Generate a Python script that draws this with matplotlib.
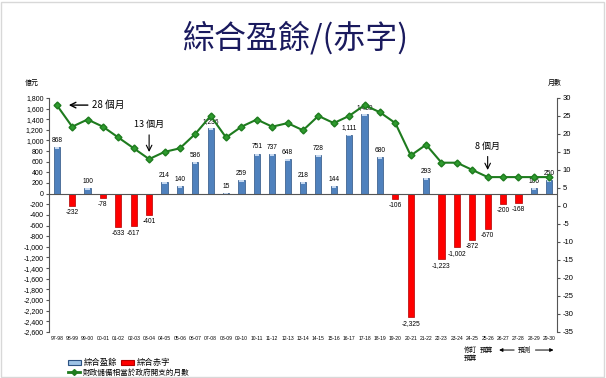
import numpy as np
import matplotlib.pyplot as plt
from matplotlib.patches import Rectangle, FancyArrowPatch
from matplotlib.lines import Line2D

plt.rcParams['font.family'] = ['Noto Sans CJK TC', 'DejaVu Sans']
num_font = 'Liberation Sans'

# Data
years = ["97-98", "98-99", "99-00", "00-01", "01-02", "02-03", "03-04", "04-05",
         "05-06", "06-07", "07-08", "08-09", "09-10", "10-11", "11-12", "12-13",
         "13-14", "14-15", "15-16", "16-17", "17-18", "18-19", "19-20", "20-21",
         "21-22", "22-23", "23-24", "24-25", "25-26", "26-27", "27-28", "28-29",
         "29-30"]
balance = [868, -232, 100, -78, -633, -617, -401, 214, 140, 586, 1236, 15, 259,
           751, 737, 648, 218, 728, 144, 1111, 1489, 680, -106, -2325, 293,
           -1223, -1002, -872, -670, -200, -168, 106, 250]
months = [28, 22, 24, 22, 19, 16, 13, 15, 16, 20, 25, 19, 22, 24, 22, 23, 21,
          25, 23, 25, 28, 26, 23, 14, 17, 12, 12, 10, 8, 8, 8, 8, 8]

left_ticks = list(range(-2600, 1801, 200))
right_ticks = list(range(-35, 31, 5))

blue = '#4F81BD'
red = '#FF0000'
green = '#1E7B1E'

fig = plt.figure(figsize=(6.06, 3.78), dpi=100)
fig.patches.append(Rectangle((0.002, 0.002), 0.994, 0.994, transform=fig.transFigure,
                             fill=False, edgecolor='#d8d8d8', linewidth=1))

ax = fig.add_axes([0.081, 0.122, 0.838, 0.619])
x = np.arange(len(years))
bal = np.array(balance)
pos = bal >= 0
w = 0.4

ax.bar(x[pos], bal[pos], width=w, color=blue, edgecolor='#2C5282', linewidth=0.5, zorder=2)
ax.bar(x[~pos], bal[~pos], width=w, color=red, edgecolor='#B00000', linewidth=0.5, zorder=2)
# lighter caps on blue bars
cap = np.minimum(bal[pos], 35)
ax.bar(x[pos], cap, bottom=bal[pos] - cap, width=w * 0.7, color='#C6D9F1', linewidth=0, zorder=3)

for xi, v in zip(x, balance):
    if v >= 0:
        ax.text(xi, v + 60, f"{v:,}", ha='center', va='bottom', fontsize=4.8, family=num_font)
    else:
        ax.text(xi, v - 60, f"{v:,}", ha='center', va='top', fontsize=4.8, family=num_font)

ax.axhline(0, color='#555555', linewidth=0.8, zorder=4)
ax.set_xlim(-0.5, len(years) - 0.5)
ax.set_ylim(-2600, 1800)
ax.set_yticks(left_ticks)
ax.set_yticklabels([f"{t:,}" for t in left_ticks], family=num_font)
ax.set_xticks(x)
ax.set_xticklabels(years, family=num_font)
ax.tick_params(axis='x', length=0, labelsize=3.6, pad=3)
ax.tick_params(axis='y', length=2, labelsize=5, pad=2, color='#555555')
for s in ['top', 'right', 'bottom']:
    ax.spines[s].set_visible(False)
ax.spines['left'].set_color('#555555')

ax2 = ax.twinx()
ax2.plot(x, months, color=green, linewidth=1.5, marker='D', markersize=3.5,
         markerfacecolor='#2E9B2E', markeredgecolor=green, zorder=5)
ax2.set_ylim(-35, 30)
ax2.set_yticks(right_ticks)
ax2.set_yticklabels([str(t) for t in right_ticks], family=num_font)
ax2.tick_params(axis='y', length=2, labelsize=5.5, pad=2, color='#555555')
for s in ['top', 'left', 'bottom']:
    ax2.spines[s].set_visible(False)
ax2.spines['right'].set_color('#555555')

# annotations on the month line
ax2.annotate("", xy=(0.6, months[0]), xytext=(2.2, months[0]),
             arrowprops=dict(arrowstyle='->', color='black', lw=1))
ax2.text(2.3, months[0], "28 個月", fontsize=7, va='center', ha='left')
ax2.annotate("", xy=(6, months[6] + 1.2), xytext=(6, 20.5),
             arrowprops=dict(arrowstyle='->', color='black', lw=0.8))
ax2.text(6, 21.3, "13 個月", fontsize=6.5, va='bottom', ha='center')
ax2.annotate("", xy=(28, months[28] + 1.2), xytext=(28, 14.5),
             arrowprops=dict(arrowstyle='->', color='black', lw=0.8))
ax2.text(28, 15.3, "8 個月", fontsize=6.5, va='bottom', ha='center')

# title and unit labels
fig.text(0.488, 0.9, "綜合盈餘/(赤字)", ha='center', va='center', fontsize=23,
         color='#1A1A5E')
fig.text(0.053, 0.78, "億元", fontsize=5, ha='center', va='center')
fig.text(0.916, 0.78, "月數", fontsize=5, ha='center', va='center')

# notes under the x axis
fig.text(0.776, 0.074, "修訂", fontsize=4.8, ha='center', va='center')
fig.text(0.776, 0.054, "預算", fontsize=4.8, ha='center', va='center')
fig.text(0.803, 0.074, "預算", fontsize=4.8, ha='center', va='center')
fig.text(0.866, 0.074, "預測", fontsize=4.8, ha='center', va='center')
fig.patches.append(FancyArrowPatch(
    (0.853, 0.074), (0.819, 0.074), transform=fig.transFigure,
    arrowstyle='-|>', mutation_scale=5, color='black', lw=0.7))
fig.patches.append(FancyArrowPatch(
    (0.879, 0.074), (0.918, 0.074), transform=fig.transFigure,
    arrowstyle='-|>', mutation_scale=5, color='black', lw=0.7))

# legend: two bar entries on one row, line entry on the next
bar_handles = [Rectangle((0, 0), 1, 1, facecolor='#9DC3E6', edgecolor='#2C5282', lw=0.8),
               Rectangle((0, 0), 1, 1, facecolor=red, edgecolor='#B00000', lw=0.8)]
fig.legend(bar_handles, ["綜合盈餘", "綜合赤字"], loc='center left',
           bbox_to_anchor=(0.112, 0.04), ncol=2, frameon=False, fontsize=6,
           handlelength=1.6, handleheight=0.6, handletextpad=0.3,
           columnspacing=0.4, borderaxespad=0, borderpad=0)
line_handle = [Line2D([0], [0], color=green, lw=2, marker='D', markersize=3)]
fig.legend(line_handle, ["財政儲備相當於政府開支的月數"], loc='center left',
           bbox_to_anchor=(0.112, 0.014), frameon=False, fontsize=5.5,
           handlelength=1.6, handletextpad=0.3, borderaxespad=0, borderpad=0)

fig.savefig("out.png", dpi=100)
